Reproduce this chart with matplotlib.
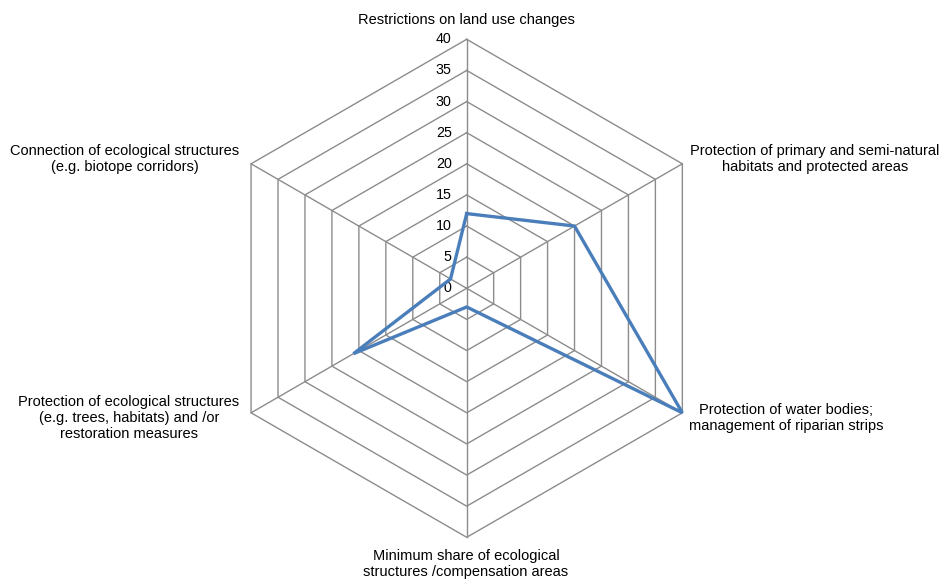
import numpy as np
import matplotlib
matplotlib.use("Agg")
import matplotlib.pyplot as plt

plt.rcParams['font.family'] = ['Liberation Sans', 'DejaVu Sans']

# categories clockwise from the top
categories = [
    "Restrictions on land use changes",
    "Protection of primary and semi-natural\nhabitats and protected areas",
    "Protection of water bodies;\nmanagement of riparian strips",
    "Minimum share of ecological\nstructures /compensation areas",
    "Protection of ecological structures\n(e.g. trees, habitats) and /or\nrestoration measures",
    "Connection of ecological structures\n(e.g. biotope corridors)",
]
values = [12, 20, 40, 3, 21, 3]
ticks = [0, 5, 10, 15, 20, 25, 30, 35, 40]

W, H = 941, 580
cx, cy = 466.7, 288.3          # centre in pixels from top-left
scale = 249 / 40               # pixels per unit

fig = plt.figure(figsize=(W / 100, H / 100), dpi=100)
ax = fig.add_axes([0, 0, 1, 1])
ax.set_xlim(-cx / scale, (W - cx) / scale)
ax.set_ylim(-(H - cy) / scale, cy / scale)
ax.axis('off')

n = len(categories)
ang = np.arange(n) * 2 * np.pi / n
sx, sy = np.sin(ang), np.cos(ang)

grid_col = '#8c8c8c'
# hexagon rings
for t in ticks[1:]:
    ax.plot(np.append(sx, sx[0]) * t, np.append(sy, sy[0]) * t,
            color=grid_col, lw=1.0, zorder=1)
# spokes
for i in range(n):
    ax.plot([0, sx[i] * ticks[-1]], [0, sy[i] * ticks[-1]],
            color=grid_col, lw=1.0, zorder=1)

# tick labels along the vertical axis
for t in ticks:
    ax.text(-15 / scale, t, str(t), ha='right', va='center', fontsize=10.3)

# data series
v = np.array(values, dtype=float)
ax.plot(np.append(sx * v, sx[0] * v[0]), np.append(sy * v, sy[0] * v[0]),
        color='#4a7ebb', lw=2.4, solid_joinstyle='miter', zorder=3)

# category labels (pixel positions of label centres)
label_pos = [(466, 20), (815, 159), (786, 418), (466, 564), (129, 418), (125, 159)]
for lab, (px, py) in zip(categories, label_pos):
    ax.text((px - cx) / scale, (cy - py) / scale, lab, ha='center', va='center',
            fontsize=10.5, linespacing=1.2)

fig.savefig('out.png', dpi=100)
